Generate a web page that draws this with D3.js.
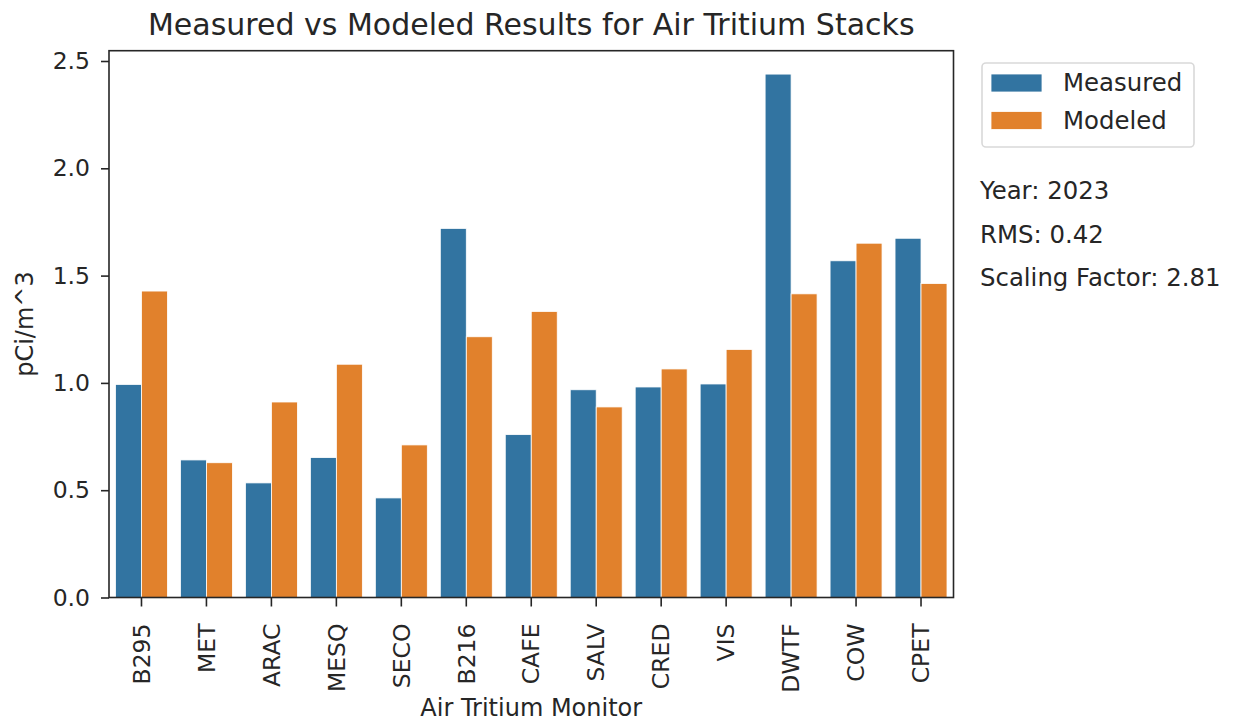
<!DOCTYPE html>
<html>
  <head>
    <style>
      body { margin: 0; background: #fff; }
      text { font-family: "DejaVu Sans", sans-serif; fill: #262626; }
    </style>
  </head>
  <body>
    <script src="https://d3js.org/d3.v7.min.js"></script>
    <script>
      // data
      const monitors = ["B295", "MET", "ARAC", "MESQ", "SECO", "B216", "CAFE", "SALV", "CRED", "VIS", "DWTF", "COW", "CPET"];
      const measured = [0.993, 0.641, 0.534, 0.652, 0.464, 1.720, 0.759, 0.968, 0.981, 0.995, 2.439, 1.569, 1.674];
      const modeled = [1.428, 0.628, 0.911, 1.087, 0.711, 1.215, 1.333, 0.888, 1.065, 1.156, 1.415, 1.651, 1.463];
      const seriesNames = ["Measured", "Modeled"];
      const yTicks = [0.0, 0.5, 1.0, 1.5, 2.0, 2.5];
      const notes = ["Year: 2023", "RMS: 0.42", "Scaling Factor: 2.81"];

      const W = 1235, H = 723;
      const m = {left: 109, right: 953.5, top: 50.7, bottom: 597.5};
      const colors = ["#3274a1", "#e1812c"];

      const svg = d3.select("body").append("svg")
        .attr("width", W)
        .attr("height", H);

      const x = d3.scaleBand().domain(monitors).range([m.left, m.right]).padding(0);
      const inner = d3.scaleBand().domain(seriesNames)
        .range([x.bandwidth() * 0.1, x.bandwidth() * 0.9]);
      const y = d3.scaleLinear().domain([0, 2.548]).range([m.bottom, m.top]);

      const rows = monitors.map((d, i) => ({name: d, values: [measured[i], modeled[i]]}));

      // bars
      const g = svg.append("g");
      rows.forEach(r => {
        r.values.forEach((v, j) => {
          g.append("rect")
            .attr("x", x(r.name) + inner(seriesNames[j]))
            .attr("y", y(v))
            .attr("width", inner.bandwidth())
            .attr("height", y(0) - y(v))
            .attr("fill", colors[j])
            .attr("stroke", "#fff")
            .attr("stroke-width", 0.8);
        });
      });

      // axes
      const yAxis = svg.append("g")
        .attr("transform", `translate(${m.left},0)`)
        .call(d3.axisLeft(y).tickValues(yTicks).tickFormat(d3.format(".1f")).tickSizeOuter(0).tickSize(8).tickPadding(11));
      const xAxis = svg.append("g")
        .attr("transform", `translate(0,${m.bottom})`)
        .call(d3.axisBottom(x).tickSizeOuter(0).tickSize(9));

      [xAxis, yAxis].forEach(a => {
        a.select(".domain").remove();
        a.selectAll(".tick line").attr("stroke", "#262626").attr("stroke-width", 1.6);
        a.selectAll("text").style("font-size", "23.5px").attr("fill", "#262626");
      });

      xAxis.selectAll(".tick text")
        .attr("transform", "rotate(-90)")
        .attr("text-anchor", "end")
        .attr("x", -26)
        .attr("y", 0)
        .attr("dy", "0.35em");

      // frame
      svg.append("rect")
        .attr("x", m.left).attr("y", m.top)
        .attr("width", m.right - m.left).attr("height", m.bottom - m.top)
        .attr("fill", "none")
        .attr("stroke", "#262626")
        .attr("stroke-width", 1.6);

      // title and labels
      svg.append("text")
        .attr("x", (m.left + m.right) / 2).attr("y", 35)
        .attr("text-anchor", "middle")
        .style("font-size", "30px")
        .text("Measured vs Modeled Results for Air Tritium Stacks");

      svg.append("text")
        .attr("x", (m.left + m.right) / 2).attr("y", 716)
        .attr("text-anchor", "middle")
        .style("font-size", "24px")
        .text("Air Tritium Monitor");

      svg.append("text")
        .attr("transform", `translate(33,${(m.top + m.bottom) / 2}) rotate(-90)`)
        .attr("text-anchor", "middle")
        .style("font-size", "24px")
        .text("pCi/m^3");

      // legend
      const lg = svg.append("g");
      lg.append("rect")
        .attr("x", 982).attr("y", 63)
        .attr("width", 212).attr("height", 84)
        .attr("rx", 4)
        .attr("fill", "#fff")
        .attr("stroke", "#d9d9d9")
        .attr("stroke-width", 1.6);
      seriesNames.forEach((s, j) => {
        lg.append("rect")
          .attr("x", 991).attr("y", 74 + j * 37.5)
          .attr("width", 51).attr("height", 18)
          .attr("fill", colors[j])
          .attr("stroke", "#fff")
          .attr("stroke-width", 0.8);
        lg.append("text")
          .attr("x", 1063).attr("y", 91 + j * 37.5)
          .style("font-size", "24.4px")
          .text(s);
      });

      // notes
      notes.forEach((t, i) => {
        svg.append("text")
          .attr("x", 980).attr("y", 199 + i * 43.5)
          .style("font-size", "24.4px")
          .text(t);
      });
    </script>
  </body>
</html>
